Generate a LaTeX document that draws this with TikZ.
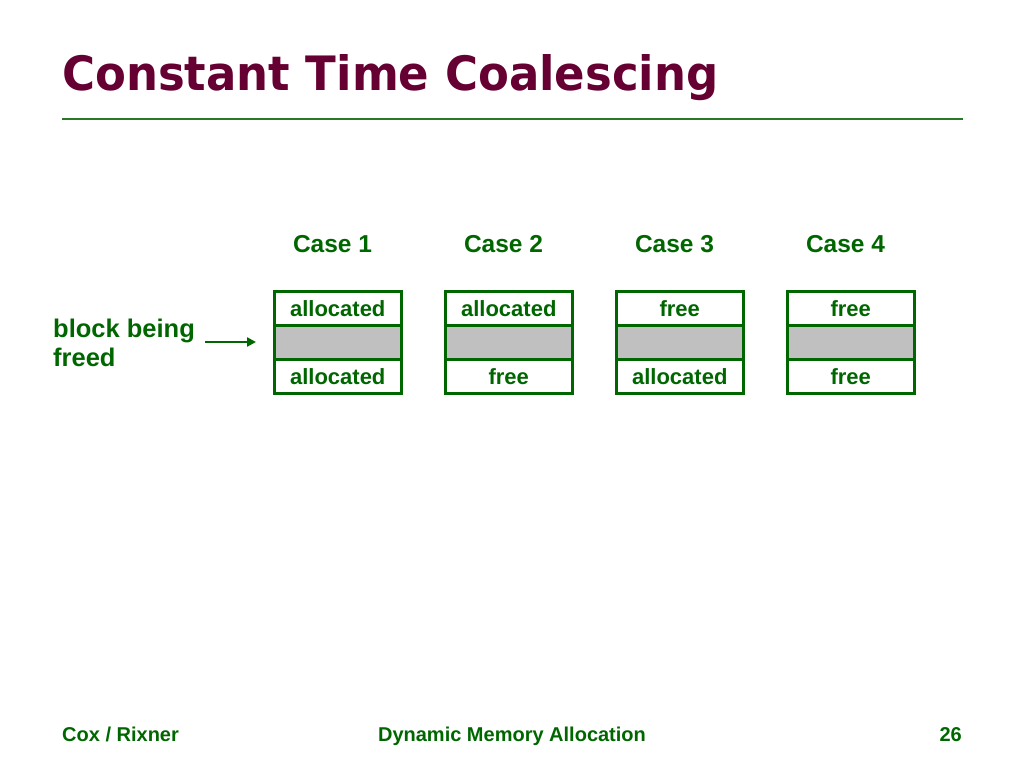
\documentclass[tikz,border=0pt]{standalone}
\usepackage{fontspec}
\setmainfont{Liberation Sans}
\newfontfamily\titlefont{DejaVu Sans}
\usetikzlibrary{arrows.meta}
\definecolor{maroon}{RGB}{102,0,51}
\definecolor{dgreen}{RGB}{0,102,0}
\definecolor{rulegreen}{RGB}{40,120,40}
\definecolor{cellgray}{RGB}{192,192,192}
\tikzset{
  cell/.style={draw=dgreen, line width=2.5pt, minimum width=127pt, inner sep=0pt,
    text=dgreen, font=\fontsize{22}{24}\selectfont\bfseries, text height=17pt, text depth=0pt},
  endcell/.style={cell, minimum height=34pt},
  midcell/.style={cell, fill=cellgray, minimum height=34pt},
  casehead/.style={anchor=base, text=dgreen, inner sep=0pt, font=\fontsize{24.5}{26}\selectfont\bfseries},
  foot/.style={anchor=base, text=dgreen, inner sep=0pt, font=\fontsize{20}{22}\selectfont\bfseries},
}
\begin{document}
\begin{tikzpicture}[x=1pt,y=-1pt]
\useasboundingbox (0,0) rectangle (1024,768);
% title
\node[anchor=base west, inner sep=0pt, text=maroon] (title) at (62,90)
  {\resizebox{656pt}{36pt}{\titlefont\bfseries Constant Time Coalescing}};
\coordinate (ruleL) at (62,119);
\coordinate (ruleR) at (963,119);
\draw[rulegreen, line width=2pt] (ruleL) -- (ruleR);
% cases
\foreach \i/\x/\top/\bot in {1/273/allocated/allocated, 2/444/allocated/free, 3/615/free/allocated, 4/786/free/free}{
  \node[casehead] (h\i) at (\x+59.5,252) {Case \i};
  \node[endcell, anchor=north west] (t\i) at (\x,290) {\top};
  \node[midcell, anchor=north west] (m\i) at (\x,324) {};
  \node[endcell, anchor=north west] (b\i) at (\x,358) {\bot};
}
% label and arrow
\node[anchor=north west, align=left, inner sep=0pt, text=dgreen,
  font=\fontsize{25.5}{29}\selectfont\bfseries] (lbl) at (53,319) {block being\\freed};
\coordinate (arrS) at (205,342);
\coordinate (arrE) at (256,342);
\draw[dgreen, line width=2.5pt, -{Triangle[length=9pt,width=9pt]}] (arrS) -- (arrE);
% footer
\node[foot, anchor=base west] (f1) at (62,741) {Cox / Rixner};
\node[foot] (f2) at (512,741) {Dynamic Memory Allocation};
\node[foot, anchor=base east] (f3) at (962,741) {26};
\end{tikzpicture}
\end{document}
